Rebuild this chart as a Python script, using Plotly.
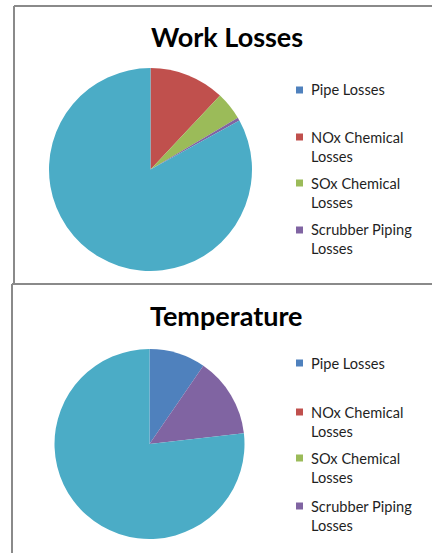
import textwrap
import plotly.graph_objects as go

# Loss categories (the last slice is the remainder, which has no legend entry)
categories = ["Pipe Losses", "NOx Chemical Losses", "SOx Chemical Losses",
              "Scrubber Piping Losses", "Remaining"]
colors = ["#4F81BD", "#C0504D", "#9BBB59", "#8064A2", "#4BACC6"]

# Share of each category, percent
work_losses = [0.0, 12.0, 4.5, 0.5, 83.0]
temperature = [9.6, 0.0, 0.0, 13.6, 76.8]

titles = ["Work Losses", "Temperature"]
legend_items = categories[:4]

W, H = 432, 553
FONT = "Lato"
TEXT = "#1f1f1f"
BORDER = dict(color="#8a8a8a", width=2)


def px(x):
    return x / W


def py(y):
    return 1 - y / H


# Panel geometry in pixels: frame corner, pie centre/radius, title centre, legend rows
panels = [
    dict(left=14, top=6, bottom=284, cx=150.5, cy=169.5, r=101.5, ty=37,
         rows=[90, 137, 183, 230]),
    dict(left=12, top=284, bottom=H, cx=149.5, cy=444, r=95, ty=315,
         rows=[363, 412, 458, 506]),
]
series = [work_losses, temperature]

fig = go.Figure()
shapes, annotations = [], []

for p, values, title in zip(panels, series, titles):
    # Chart frame: left and top edges, running off the right of the page
    shapes.append(dict(type="line", xref="paper", yref="paper",
                       x0=px(p["left"]), x1=px(p["left"]),
                       y0=py(p["top"]), y1=py(p["bottom"]), line=BORDER))
    shapes.append(dict(type="line", xref="paper", yref="paper",
                       x0=px(p["left"]), x1=1.0,
                       y0=py(p["top"]), y1=py(p["top"]), line=BORDER))

    fig.add_trace(go.Pie(
        labels=categories, values=values, sort=False,
        direction="clockwise", rotation=0,
        marker=dict(colors=colors, line=dict(width=0)),
        textinfo="none", hoverinfo="label+percent", showlegend=False,
        domain=dict(x=[px(p["cx"] - p["r"]), px(p["cx"] + p["r"])],
                    y=[py(p["cy"] + p["r"]), py(p["cy"] - p["r"])]),
    ))

    annotations.append(dict(text="<b>%s</b>" % title, xref="paper", yref="paper",
                            x=px(227), y=py(p["ty"]), xanchor="center",
                            yanchor="middle", showarrow=False,
                            font=dict(family=FONT, size=27, color="#000000")))

    # Hand-built legend: coloured square plus wrapped label lines
    for label, color, row in zip(legend_items, colors, p["rows"]):
        shapes.append(dict(type="rect", xref="paper", yref="paper",
                           x0=px(296), x1=px(303), y0=py(row + 3.5), y1=py(row - 3.5),
                           line=dict(width=0), fillcolor=color))
        for i, line in enumerate(textwrap.wrap(label, 15)):
            annotations.append(dict(text=line, xref="paper", yref="paper",
                                    x=px(309), y=py(row + i * 19),
                                    xanchor="left", yanchor="middle",
                                    showarrow=False,
                                    font=dict(family=FONT, size=14.6, color=TEXT)))

fig.update_layout(width=W, height=H, margin=dict(l=0, r=0, t=0, b=0),
                  paper_bgcolor="white", plot_bgcolor="white",
                  shapes=shapes, annotations=annotations)

fig.write_html("out.html")
